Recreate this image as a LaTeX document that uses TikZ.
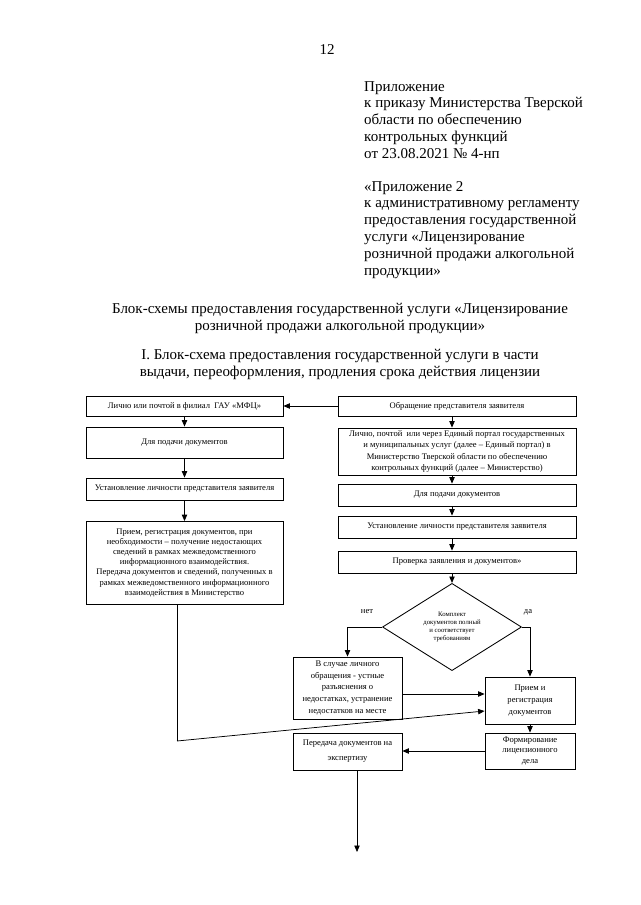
\documentclass[tikz,border=0pt]{standalone}
\usepackage{fontspec}
\setmainfont{Liberation Serif}
\usetikzlibrary{arrows.meta,shapes.geometric}
\def\px{0.0328125cm}
\def\bigfont{\fontsize{14}{15.7}\selectfont}
\tikzset{
	blok/.style={draw, line width=0.8pt, inner sep=1pt, align=center, font=\fontsize{8}{9.4}\selectfont},
	strelka/.style={-{Triangle[length=6pt,width=5pt]}, line width=0.7pt},
	liniya/.style={line width=0.7pt},
	tekst/.style={inner sep=0pt, font=\bigfont}
}

\begin{document}
\begin{tikzpicture}[x=\px, y=-\px]
		%%%%% START %%%%%
		\useasboundingbox[fill=white] (0,0) rectangle (640,905);
		
		\node[tekst] (nomer) at (327,50) {12};
		\node[tekst, anchor=north west, align=left] (prilozh) at (364,81) {Приложение\\к приказу Министерства Тверской\\области по обеспечению\\контрольных функций\\от 23.08.2021 № 4-нп};
		\node[tekst, anchor=north west, align=left] (prilozh2) at (364,181) {«Приложение 2\\к административному регламенту\\предоставления государственной\\услуги «Лицензирование\\розничной продажи алкогольной\\продукции»};
		
		\node[tekst, anchor=north, align=center] (zag) at (340,303) {Блок-схемы предоставления государственной услуги «Лицензирование\\розничной продажи алкогольной продукции»};
		\node[tekst, anchor=north, align=center] (zag2) at (340,349) {I. Блок-схема предоставления государственной услуги в части\\выдачи, переоформления, продления срока действия лицензии};
		
		% left column
		\node[blok, minimum width=197*\px, minimum height=20*\px] (L1) at (184.5,406) {Лично или почтой в филиал~ ГАУ «МФЦ»};
		\node[blok, minimum width=197*\px, minimum height=31*\px] (L2) at (184.5,442.5) {Для подачи документов};
		\node[blok, minimum width=197*\px, minimum height=22*\px] (L3) at (184.5,489) {Установление личности представителя заявителя};
		\node[blok, minimum width=197*\px, minimum height=83*\px] (L4) at (184.5,563) {Прием, регистрация документов, при\\необходимости – получение недостающих\\сведений в рамках межведомственного\\информационного взаимодействия.\\Передача документов и сведений, полученных в\\рамках межведомственного информационного\\взаимодействия в Министерство};
		
		% right column
		\node[blok, minimum width=238*\px, minimum height=20*\px] (R1) at (457,406) {Обращение представителя заявителя};
		\node[blok, minimum width=238*\px, minimum height=47*\px, font=\fontsize{8}{10.3}\selectfont] (R2) at (457,451.5) {Лично, почтой~ или через Единый портал государственных\\и муниципальных услуг (далее – Единый портал) в\\Министерство Тверской области по обеспечению\\контрольных функций (далее – Министерство)};
		\node[blok, minimum width=238*\px, minimum height=22*\px] (R3) at (457,495) {Для подачи документов};
		\node[blok, minimum width=238*\px, minimum height=22*\px] (R4) at (457,527) {Установление личности представителя заявителя};
		\node[blok, minimum width=238*\px, minimum height=22*\px] (R5) at (457,562) {Проверка заявления и документов»};
		
		\node[draw, diamond, line width=0.8pt, inner sep=0pt, minimum width=139*\px, minimum height=82*\px, align=center, font=\fontsize{6.3}{7.5}\selectfont] (D) at (452,627) {Комплект\\документов полный\\и соответствует\\требованиям};
		\node[font=\fontsize{8}{9}\selectfont] (net) at (367,612) {нет};
		\node[font=\fontsize{8}{9}\selectfont] (da) at (528,612) {да};
		
		\node[blok, minimum width=109*\px, minimum height=62*\px, font=\fontsize{8}{11}\selectfont] (N) at (347.5,688) {В случае личного\\обращения - устные\\разъяснения о\\недостатках, устранение\\недостатков на месте};
		\node[blok, minimum width=90*\px, minimum height=47*\px, font=\fontsize{8}{11}\selectfont] (P) at (530,700.5) {Прием и\\регистрация\\документов};
		\node[blok, minimum width=90*\px, minimum height=36*\px, inner sep=0pt, font=\fontsize{8}{10.2}\selectfont] (F) at (530,751) {Формирование\\лицензионного\\дела};
		\node[blok, minimum width=109*\px, minimum height=37*\px, font=\fontsize{8}{14}\selectfont] (E) at (347.5,751.5) {Передача документов на\\экспертизу};
		
		\coordinate (lvniz) at (177,741);
		\coordinate (np) at (0,694);
		\coordinate (pv) at (0,711);
		\coordinate (konec) at (357,852);
		
		% arrows
		\draw[strelka] (R1.west) -- (L1.east);
		\draw[strelka] (L1) -- (L2);
		\draw[strelka] (L2) -- (L3);
		\draw[strelka] (L3) -- (L4);
		
		\draw[strelka] (R1.south -| D.north) -- (R2.north -| D.north);
		\draw[strelka] (R2.south -| D.north) -- (R3.north -| D.north);
		\draw[strelka] (R3.south -| D.north) -- (R4.north -| D.north);
		\draw[strelka] (R4.south -| D.north) -- (R5.north -| D.north);
		\draw[strelka] (R5.south -| D.north) -- (D.north);
		
		\draw[strelka] (D.west) -| (N.north);
		\draw[strelka] (D.east) -| (P.north);
		\draw[strelka] (N.east |- np) -- (P.west |- np);
		
		\draw[liniya] (L4.south -| lvniz) -- (lvniz);
		\draw[strelka] (lvniz) -- (P.west |- pv);
		
		\draw[strelka] (P) -- (F);
		\draw[strelka] (F.west) -- (F.west -| E.east);
		\draw[strelka] (E.south -| konec) -- (konec);
		
		%%%%% END %%%%%
\end{tikzpicture}
\end{document}
